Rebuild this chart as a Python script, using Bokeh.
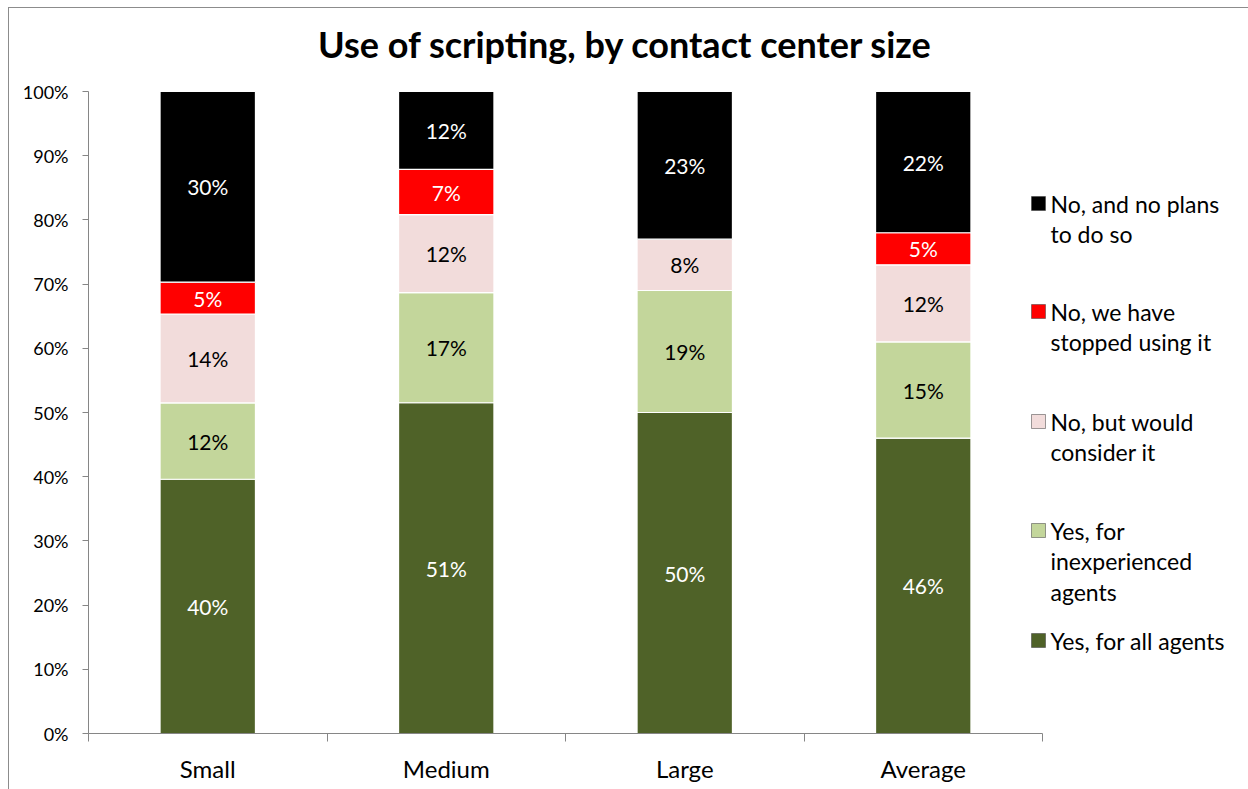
from bokeh.plotting import figure
from bokeh.models import Range1d, FixedTicker, NumeralTickFormatter, ColumnDataSource
from bokeh.core.properties import value
from bokeh.embed import file_html
from bokeh.resources import INLINE

# ---------------- data ----------------
title_text = "Use of scripting, by contact center size"
categories = ["Small", "Medium", "Large", "Average"]
series = ["Yes, for all agents", "Yes, for inexperienced agents",
          "No, but would consider it", "No, we have stopped using it",
          "No, and no plans to do so"]
legend_lines = [["Yes, for all agents"],
                ["Yes, for", "inexperienced", "agents"],
                ["No, but would", "consider it"],
                ["No, we have", "stopped using it"],
                ["No, and no plans", "to do so"]]
yes_all = [40, 51, 50, 46]
yes_inexp = [12, 17, 19, 15]
no_consider = [14, 12, 8, 12]
no_stopped = [5, 7, 0, 5]
no_plans = [30, 12, 23, 22]
colors = ["#4F6228", "#C3D69B", "#F2DCDB", "#FF0000", "#000000"]
label_colors = ["white", "black", "black", "white", "white"]
y_ticks = [0.0, 0.1, 0.2, 0.3, 0.4, 0.5, 0.6, 0.7, 0.8, 0.9, 1.0]

FONT = "Lato"

# ---------------- layout helpers ----------------
FRAME_LEFT_PX = 88      # page x of the frame's left edge
FRAME_BOTTOM_PX = 733   # page y of 0%
PX_PER_X = 954 / 4      # pixels per category slot
PX_PER_Y = 642          # pixels per 100%
frame_w = 1160
frame_h = 725

def px_x(px):
    return (px - FRAME_LEFT_PX) / PX_PER_X

def px_y(py):
    return (FRAME_BOTTOM_PX - py) / PX_PER_Y

p = figure(frame_width=frame_w, frame_height=frame_h,
           x_range=Range1d(0, frame_w / PX_PER_X),
           y_range=Range1d(0, frame_h / PX_PER_Y),
           output_backend="svg", toolbar_location=None,
           min_border_left=79, min_border_right=0, min_border_top=0,
           min_border_bottom=56,
           styles={"margin-left": "8px", "margin-top": "7px",
                   "border-left": "1px solid #8c8c8c", "border-top": "1px solid #8c8c8c"})
p.outline_line_color = None
p.grid.visible = False
p.background_fill_color = "white"
p.border_fill_color = "white"

# ---------------- bars ----------------
raw = [yes_all, yes_inexp, no_consider, no_stopped, no_plans]
totals = [sum(col) for col in zip(*raw)]
norm = [[v / t for v, t in zip(s, totals)] for s in raw]
xs = [i + 0.5 for i in range(len(categories))]
keys = ["s%d" % i for i in range(len(series))]
data = {"x": xs}
for k, s in zip(keys, norm):
    data[k] = s
src = ColumnDataSource(data)
p.vbar_stack(keys, x="x", width=0.4, color=colors, line_color="white",
             line_width=1.2, source=src)

# segment labels
lx, ly, lt, lc = [], [], [], []
for j in range(len(categories)):
    base = 0.0
    for i in range(len(series)):
        v = norm[i][j]
        if raw[i][j] > 0:
            lx.append(xs[j])
            ly.append(base + v / 2)
            lt.append("%d%%" % raw[i][j])
            lc.append(label_colors[i])
        base += v
p.text(x=lx, y=ly, text=lt, text_color=lc, text_align="center",
       text_baseline="middle", text_font=value(FONT), text_font_size="21px")

# ---------------- title ----------------
p.text(x=[px_x(625)], y=[px_y(43)], text=[title_text], text_align="center",
       text_baseline="middle", text_font=value(FONT),
       text_font_style="bold", text_font_size="36px", text_color="black")

# ---------------- legend (manual) ----------------
legend_first_py = [640, 530, 421, 311, 203]
line_gap = 30.5
sq_x, sq_y = [], []
tx, ty, tt = [], [], []
for i, lines in enumerate(legend_lines):
    y0 = legend_first_py[i]
    sq_x.append(px_x(1038))
    sq_y.append(px_y(y0))
    for k, ln in enumerate(lines):
        tx.append(px_x(1050))
        ty.append(px_y(y0 + k * line_gap))
        tt.append(ln)
p.scatter(x=sq_x, y=sq_y, marker="square", size=14, fill_color=colors,
          line_color="#3a3a3a", line_width=0.5)
p.text(x=tx, y=ty, text=tt, text_align="left", text_baseline="middle",
       text_font=value(FONT), text_font_size="23px", text_color="black")

# ---------------- axes ----------------
xa = p.xaxis[0]
xa.ticker = FixedTicker(ticks=xs, minor_ticks=list(range(len(categories) + 1)))
xa.major_label_overrides = {x: c for x, c in zip(xs, categories)}
xa.bounds = (0, len(categories))
xa.major_tick_out = 0
xa.major_tick_in = 0
xa.minor_tick_out = 8
xa.minor_tick_in = 0
xa.axis_line_color = "#868686"
xa.minor_tick_line_color = "#868686"
xa.major_label_text_font = FONT
xa.major_label_text_font_size = "24px"
xa.major_label_text_color = "black"
xa.major_label_standoff = 12

ya = p.yaxis[0]
ya.ticker = FixedTicker(ticks=y_ticks, minor_ticks=[])
ya.formatter = NumeralTickFormatter(format="0%")
ya.bounds = (0, 1)
ya.major_tick_out = 6
ya.major_tick_in = 0
ya.axis_line_color = "#868686"
ya.major_tick_line_color = "#868686"
ya.major_label_text_font = FONT
ya.major_label_text_font_size = "18px"
ya.major_label_text_color = "black"
ya.major_label_standoff = 14

open("out.html", "w").write(file_html(p, INLINE))
